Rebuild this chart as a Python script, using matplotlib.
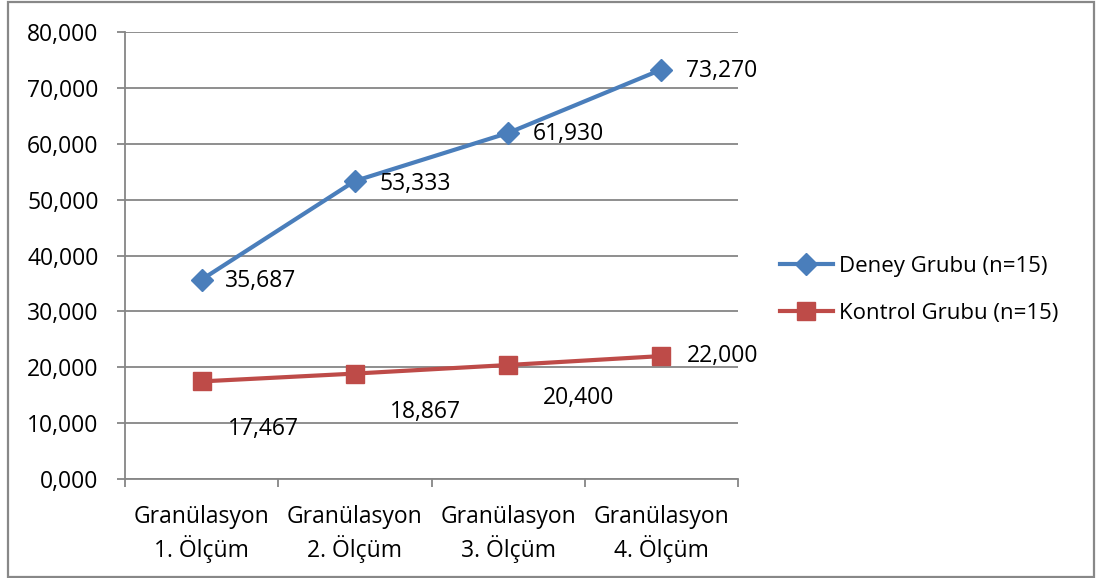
import matplotlib.pyplot as plt
from matplotlib.patches import Rectangle
from matplotlib.ticker import FuncFormatter, FixedLocator

categories = ["Granülasyon\n1. Ölçüm", "Granülasyon\n2. Ölçüm",
              "Granülasyon\n3. Ölçüm", "Granülasyon\n4. Ölçüm"]
deney = [35.687, 53.333, 61.930, 73.270]
kontrol = [17.467, 18.867, 20.400, 22.000]
series_names = ["Deney Grubu (n=15)", "Kontrol Grubu (n=15)"]

# label offsets (points) for each data label
deney_off = [(17, -1), (18, -2), (18, -1), (18, -1)]
kontrol_off = [(19, -34), (25, -28), (25, -24), (18, 0)]

plt.rcParams['font.family'] = ['Open Sans', 'DejaVu Sans']
FS = 16.5

fig = plt.figure(figsize=(10.97, 5.78), dpi=100)
ax = fig.add_axes([125 / 1097, (578 - 479) / 578, 613 / 1097, 447 / 578])

# outer chart border
fig.patches.append(Rectangle((8 / 1097, 1 / 578), 1086 / 1097, 575 / 578,
                             transform=fig.transFigure, fill=False,
                             edgecolor='#888888', linewidth=1.6))

x = range(len(categories))
blue = '#4a7ebb'
red = '#be4b48'
ax.plot(x, deney, color=blue, lw=3, marker='D', ms=11, label=series_names[0],
        zorder=3)
ax.plot(x, kontrol, color=red, lw=3, marker='s', ms=13, label=series_names[1],
        zorder=3)

fmt = lambda v: "{:.3f}".format(v).replace('.', ',')
for xi, v, off in zip(x, deney, deney_off):
    ax.annotate(fmt(v), (xi, v), xytext=off, textcoords='offset points',
                ha='left', va='center', fontsize=FS, color='black')
for xi, v, off in zip(x, kontrol, kontrol_off):
    ax.annotate(fmt(v), (xi, v), xytext=off, textcoords='offset points',
                ha='left', va='center', fontsize=FS, color='black')

ax.set_xlim(-0.5, 3.5)
ax.set_ylim(0, 80)
ax.set_yticks(range(0, 81, 10))
ax.yaxis.set_major_formatter(FuncFormatter(lambda v, p: fmt(v)))
ax.set_xticks(list(x))
ax.set_xticklabels(categories)
ax.xaxis.set_minor_locator(FixedLocator([-0.5, 0.5, 1.5, 2.5, 3.5]))
ax.tick_params(axis='x', which='major', length=0, pad=19, labelsize=FS)
ax.tick_params(axis='x', which='minor', length=6, width=1.3, color='#868686')
ax.tick_params(axis='y', length=6, width=1.3, color='#868686', labelsize=FS, pad=13)
for t in ax.get_xticklabels():
    t.set_linespacing(1.25)

ax.grid(axis='y', color='#868686', lw=1.3)
ax.set_axisbelow(True)
for s in ['top', 'right']:
    ax.spines[s].set_visible(False)
for s in ['left', 'bottom']:
    ax.spines[s].set_color('#868686')
    ax.spines[s].set_linewidth(1.3)

leg = ax.legend(loc='center left', frameon=False, fontsize=16,
                handlelength=2.4, handletextpad=0.25, labelspacing=1.15,
                borderpad=0, borderaxespad=0)
leg.set_bbox_to_anchor((1.068, 0.0, 1, 0.846), transform=ax.transAxes)

fig.savefig('out.png', dpi=100)
